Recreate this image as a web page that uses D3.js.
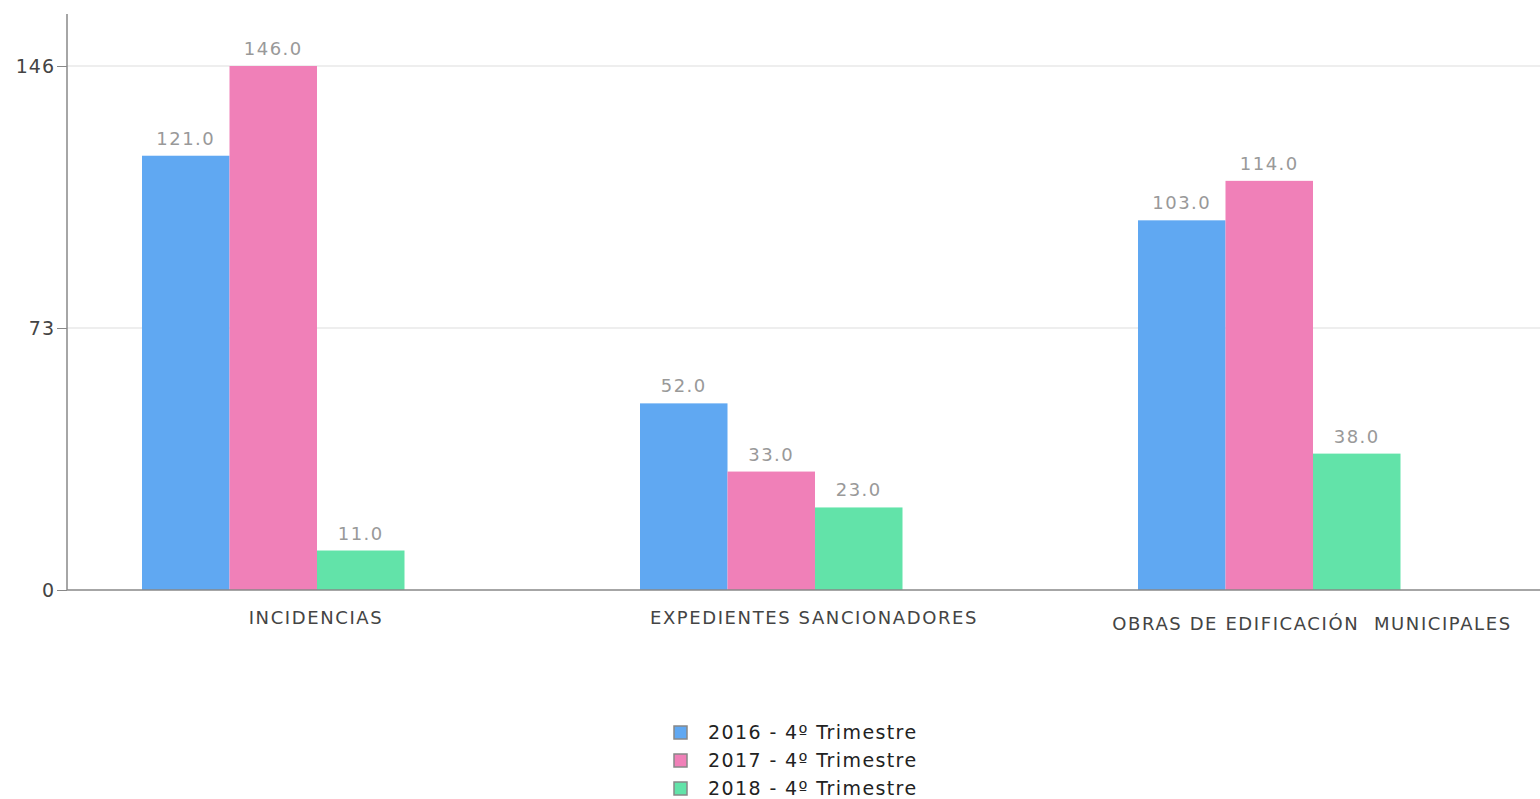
<!DOCTYPE html>
<html>
<head>
<meta charset="utf-8">
<script src="https://cdn.jsdelivr.net/npm/d3@7"></script>
<style>
  body { margin: 0; background: #fff; }
  svg { font-family: "DejaVu Sans", sans-serif; }
</style>
</head>
<body>
<svg id="chart" width="1540" height="799"></svg>
<script>
// categories, series and values
var categories = ["INCIDENCIAS", "EXPEDIENTES SANCIONADORES", "OBRAS DE EDIFICACIÓN  MUNICIPALES"];
var seriesNames = ["2016 - 4º Trimestre", "2017 - 4º Trimestre", "2018 - 4º Trimestre"];
var values2016 = [121, 52, 103];
var values2017 = [146, 33, 114];
var values2018 = [11, 23, 38];
var yTicks = [0, 73, 146];
var colors = ["#60a8f2", "#f080b8", "#62e3a9"];

var seriesValues = [values2016, values2017, values2018];

var svg = d3.select("#chart");
var plotLeft = 67, plotBottom = 590, plotTop = 14;

var y = d3.scaleLinear().domain([0, 146]).range([plotBottom, 66]);
var x = d3.scaleBand().domain(categories).range([plotLeft, plotLeft + 498 * 3]);
var barW = 87.5, barOffset = 75;

// gridlines
svg.append("g").selectAll("line")
    .data(yTicks.filter(function(t) { return t > 0; }))
    .enter().append("line")
    .attr("x1", plotLeft).attr("x2", 1540)
    .attr("y1", function(d) { return y(d); })
    .attr("y2", function(d) { return y(d); })
    .attr("stroke", "#dddddd").attr("stroke-width", 1);

// bars + value labels
seriesValues.forEach(function(vals, s) {
    svg.append("g").selectAll("rect")
        .data(categories)
        .enter().append("rect")
        .attr("x", function(d) { return x(d) + barOffset + s * barW; })
        .attr("y", function(d, i) { return y(vals[i]); })
        .attr("width", barW)
        .attr("height", function(d, i) { return plotBottom - y(vals[i]); })
        .attr("fill", colors[s]);

    svg.append("g").selectAll("text")
        .data(categories)
        .enter().append("text")
        .attr("x", function(d) { return x(d) + barOffset + s * barW + barW / 2; })
        .attr("y", function(d, i) { return y(vals[i]) - 11; })
        .attr("text-anchor", "middle")
        .attr("font-size", 18)
        .attr("letter-spacing", 1.5)
        .attr("fill", "#999999")
        .text(function(d, i) { return vals[i].toFixed(1); });
});

// y axis
var yAxis = svg.append("g")
    .attr("transform", "translate(" + plotLeft + ",0)")
    .call(d3.axisLeft(y).tickValues(yTicks).tickSize(10).tickSizeOuter(0).tickFormat(d3.format("d")));
yAxis.select(".domain").remove();
yAxis.selectAll(".tick line").attr("stroke", "#888");
yAxis.selectAll(".tick text")
    .attr("font-size", 19).attr("letter-spacing", 1).attr("fill", "#444").attr("x", -12)
    .attr("font-family", "DejaVu Sans, sans-serif");
svg.append("line")
    .attr("x1", plotLeft).attr("x2", plotLeft).attr("y1", plotTop).attr("y2", plotBottom)
    .attr("stroke", "#888").attr("stroke-width", 1.5);
svg.append("line")
    .attr("x1", plotLeft).attr("x2", 1540).attr("y1", plotBottom).attr("y2", plotBottom)
    .attr("stroke", "#888").attr("stroke-width", 1.5);

// category labels
svg.append("g").selectAll("text")
    .data(categories)
    .enter().append("text")
    .attr("x", function(d) { return x(d) + x.bandwidth() / 2; })
    .attr("y", function(d) { return /[ÁÉÍÓÚ]/.test(d) ? 630 : 624; })
    .attr("text-anchor", "middle")
    .attr("font-size", 18)
    .attr("letter-spacing", 1.6)
    .attr("fill", "#444")
    .style("white-space", "pre")
    .text(function(d) { return d; });

// legend
var legend = svg.append("g").attr("transform", "translate(674,726)");
var rows = legend.selectAll("g").data(seriesNames).enter().append("g")
    .attr("transform", function(d, i) { return "translate(0," + i * 28 + ")"; });
rows.append("rect")
    .attr("width", 13).attr("height", 13)
    .attr("fill", function(d, i) { return colors[i]; })
    .attr("stroke", "#888").attr("stroke-width", 1.5);
rows.append("text")
    .attr("x", 34).attr("y", 13)
    .attr("font-size", 19)
    .attr("letter-spacing", 1.4)
    .attr("fill", "#222")
    .text(function(d) { return d; });
</script>
</body>
</html>
